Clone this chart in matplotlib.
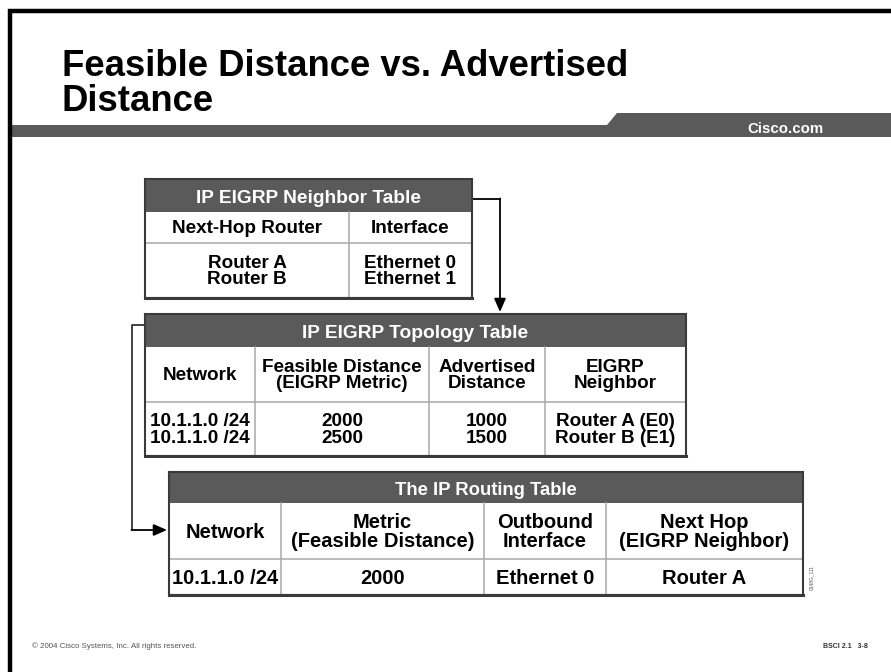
import matplotlib
matplotlib.use("Agg")
import matplotlib.pyplot as plt
from matplotlib.patches import Rectangle, Polygon

FONT = {"family": "Liberation Sans"}

# ---- slide content ----
TITLE_LINES = ["Feasible Distance vs. Advertised", "Distance"]
SITE = "Cisco.com"
FOOTER_LEFT = "\u00a9 2004 Cisco Systems, Inc. All rights reserved."
FOOTER_RIGHT = "BSCI 2.1   3-8"
FIG_ID = "0148G_111"

NEIGHBOR_TITLE = "IP EIGRP Neighbor Table"
NEIGHBOR_COLS = ["Next-Hop Router", "Interface"]
NEIGHBOR_ROUTERS = ["Router A", "Router B"]
NEIGHBOR_IFACES = ["Ethernet 0", "Ethernet 1"]

TOPO_TITLE = "IP EIGRP Topology Table"
TOPO_COLS = ["Network", "Feasible Distance\n(EIGRP Metric)", "Advertised\nDistance", "EIGRP\nNeighbor"]
TOPO_NETWORKS = ["10.1.1.0 /24", "10.1.1.0 /24"]
TOPO_FD = [2000, 2500]
TOPO_AD = [1000, 1500]
TOPO_NEIGHBORS = ["Router A (E0)", "Router B (E1)"]

ROUTE_TITLE = "The IP Routing Table"
ROUTE_COLS = ["Network", "Metric\n(Feasible Distance)", "Outbound\nInterface", "Next Hop\n(EIGRP Neighbor)"]
ROUTE_ROW = ["10.1.1.0 /24", 2000, "Ethernet 0", "Router A"]

HEADER_GRAY = "#5a5a5a"
BORDER = "#3a3a3a"
GRID = "#a8a8a8"

fig = plt.figure(figsize=(8.91, 6.72), dpi=100)
ax = fig.add_axes([0, 0, 1, 1])
ax.set_xlim(0, 891)
ax.set_ylim(672, 0)
ax.axis("off")
renderer = fig.canvas.get_renderer()


def fit_size(text, width_px, weight="bold"):
    # font size (pt) that makes the string about width_px wide
    t = ax.text(0, 0, text, fontsize=10, fontweight=weight, **FONT)
    w = t.get_window_extent(renderer).width
    t.remove()
    return 10 * width_px / w


def draw_table(xs, ys, title, cols, cells, size, title_size, spacing=0.95):
    top, hb, cb, bot = ys
    left, right = xs[0], xs[-1]
    ax.add_patch(Rectangle((left, top), right - left, bot - top, facecolor="white",
                           edgecolor="none", zorder=1))
    ax.add_patch(Rectangle((left, top), right - left, hb - top, facecolor=HEADER_GRAY,
                           edgecolor="none", zorder=2))
    ax.plot([left, right], [cb, cb], color=GRID, lw=1.1, zorder=3)
    for x in xs[1:-1]:
        ax.plot([x, x], [hb, bot], color=GRID, lw=1.1, zorder=3)
    ax.plot([left, right, right, left, left], [top, top, bot, bot, top],
            color=BORDER, lw=1.5, zorder=4, solid_joinstyle="miter")
    ax.plot([left, right], [bot, bot], color=BORDER, lw=2.2, zorder=4)
    ax.text((left + right) / 2, (top + hb) / 2 + 1, title, color="white", ha="center",
            va="center_baseline", fontsize=title_size, fontweight="bold", zorder=5, **FONT)
    for i, label in enumerate(cols):
        ax.text((xs[i] + xs[i + 1]) / 2, (hb + cb) / 2 + 1, label, ha="center", va="center",
                fontsize=size, fontweight="bold", linespacing=spacing, zorder=5, **FONT)
    for i, col in enumerate(cells):
        txt = "\n".join(str(v) for v in col)
        ax.text((xs[i] + xs[i + 1]) / 2, (cb + bot) / 2 + 1, txt, ha="center", va="center",
                fontsize=size, fontweight="bold", linespacing=spacing, zorder=5, **FONT)


# slide frame
ax.plot([10, 10, 891], [672, 11, 11], color="black", lw=3.2, solid_joinstyle="miter")

# title
title_size = fit_size(TITLE_LINES[0], 568)
ax.text(62, 76, TITLE_LINES[0], fontsize=title_size, fontweight="bold", va="baseline", **FONT)
ax.text(62, 111, TITLE_LINES[1], fontsize=title_size, fontweight="bold", va="baseline", **FONT)

# header bar with raised tab on the right
ax.add_patch(Polygon([(12, 125), (607, 125), (617, 113), (891, 113), (891, 137), (12, 137)],
                     closed=True, facecolor=HEADER_GRAY, edgecolor="none"))
ax.text(785, 133, SITE, color="white", fontsize=fit_size(SITE, 76), fontweight="bold",
        ha="center", va="baseline", **FONT)

# neighbor table
draw_table([145, 349, 472], [179, 212, 243, 298], NEIGHBOR_TITLE, NEIGHBOR_COLS,
           [NEIGHBOR_ROUTERS, NEIGHBOR_IFACES], 13.6, 13.8)

# topology table
draw_table([145, 255, 429, 545, 686], [314, 347, 402, 456], TOPO_TITLE, TOPO_COLS,
           [TOPO_NETWORKS, TOPO_FD, TOPO_AD, TOPO_NEIGHBORS], 13.6, 13.8)

# routing table
route_size = fit_size("(Feasible Distance)", 184)
draw_table([169, 281, 484, 606, 803], [472, 503, 559, 595], ROUTE_TITLE, ROUTE_COLS,
           [[v] for v in ROUTE_ROW], route_size, fit_size(ROUTE_TITLE, 182), spacing=1.0)

# connectors
arrow = dict(arrowstyle="-|>,head_length=0.8,head_width=0.35", color="black", lw=1.3,
             shrinkA=0, shrinkB=0)
ax.plot([472, 500], [199, 199], color="black", lw=1.3)
ax.annotate("", xy=(500, 312), xytext=(500, 198.5), arrowprops=arrow)
ax.plot([145, 132, 132], [325, 325, 530], color="#333333", lw=1.3)
ax.annotate("", xy=(167, 530), xytext=(131.5, 530), arrowprops=arrow)

# figure id and footer
ax.text(812, 577, FIG_ID, rotation=90, fontsize=3.5, color="#555555", ha="center", va="center",
        **FONT)
ax.text(32, 646, FOOTER_LEFT, fontsize=fit_size(FOOTER_LEFT, 165, "normal"), color="#555555",
        va="center", **FONT)
ax.text(868, 646, FOOTER_RIGHT, fontsize=5, color="#333333", fontweight="bold",
        ha="right", va="center", **FONT)

fig.savefig("out.png", dpi=100)
